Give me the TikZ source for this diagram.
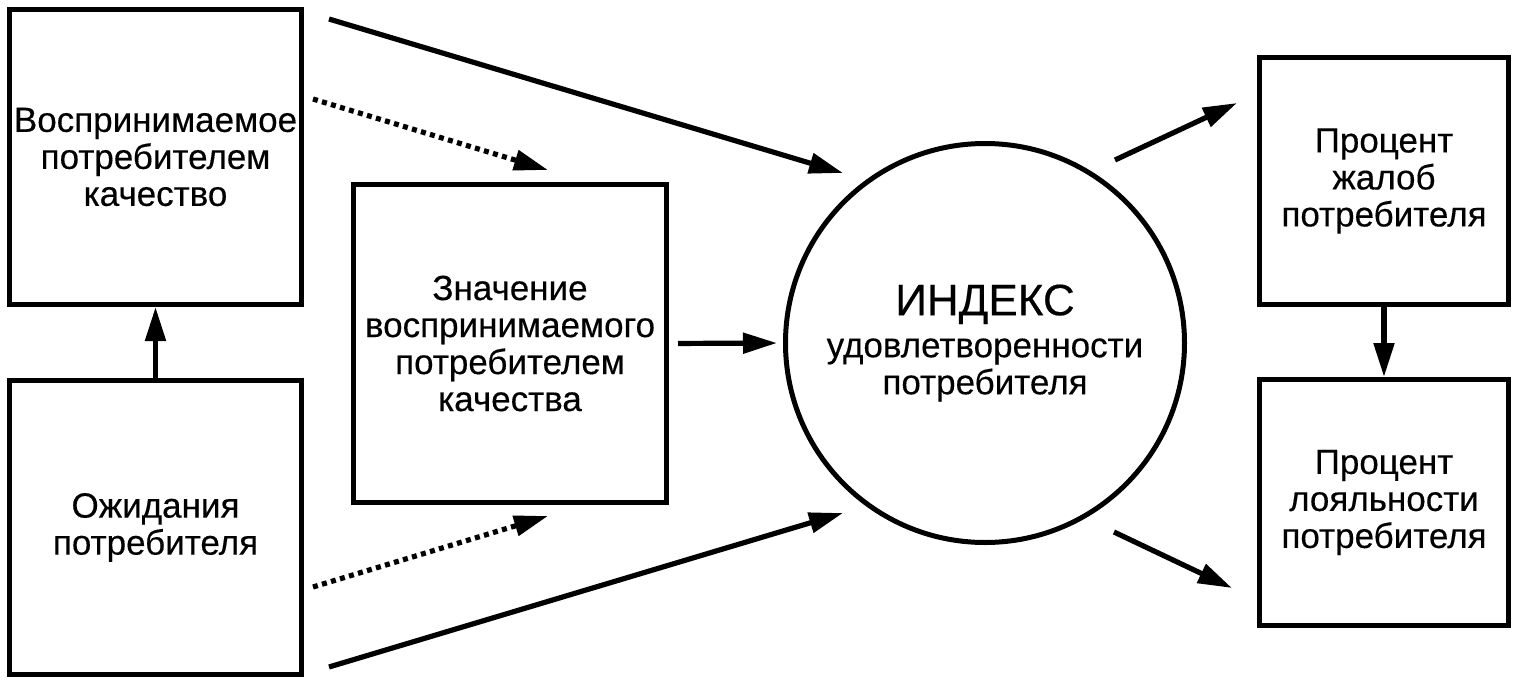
\documentclass[tikz,border=0pt]{standalone}
\usepackage{fontspec}
\setmainfont[FakeBold=0.35]{Liberation Sans}
\usetikzlibrary{arrows.meta,positioning,calc}

\begin{document}
\begin{tikzpicture}[
                x=0.5pt, y=-0.5pt,
                font=\fontsize{17.5}{18.5}\selectfont,
                >={Triangle[length=17pt,width=10pt]},
                block/.style={draw, line width=2.5pt, inner sep=0pt, outer sep=0pt, align=center},
                circ/.style={draw, circle, line width=2.5pt, minimum size=199.5pt, inner sep=0pt, outer sep=0pt, align=center},
                line/.style={->, line width=2.6pt},
                dotline/.style={line, dash pattern=on 2.5pt off 2.2pt},
            ]
            \useasboundingbox (0,0) rectangle (1517,686);

            % ----- Left column -----
            \node[block, minimum width=146pt, minimum height=147.5pt] (perc) at (155.5,157) {Воспринимаемое\\потребителем\\качество};
            \node[block, minimum width=146pt, minimum height=147pt, below=38pt of perc] (expect) {Ожидания\\потребителя};

            % ----- Middle part -----
            \node[block, minimum width=156.5pt, minimum height=159pt] (value) at (510,343.5) {Значение\\воспринимаемого\\потребителем\\качества};
            \node[circ] (index) at (985,343) {{\fontsize{22}{26}\selectfont ИНДЕКС}\\[2.5pt]удовлетворенности\\потребителя};

            % ----- Right column -----
            \node[block, minimum width=124.5pt, minimum height=123.5pt] (compl) at (1384,181) {Процент\\жалоб\\потребителя};
            \node[block, minimum width=124.5pt, minimum height=123pt, below=37.5pt of compl] (loyal) {Процент\\лояльности\\потребителя};

            % expectations -> perceived quality
            \draw[line, shorten >=1.25pt] (expect) -- (perc);

            % left column -> value (dotted)
            \draw[dotline] ($(perc.north east)+(11.5,89.5)$) -- ($(value.north)+(38,-14.5)$);
            \draw[dotline] ($(expect.south east)+(11.5,-87.5)$) -- ($(value.south)+(38,13.5)$);

            % left column -> index
            \draw[line] ($(perc.north east)+(27.5,9.5)$) -- ($(index.center)+(-142,-170)$);
            \draw[line] ($(expect.south east)+(27.5,-7.5)$) -- ($(index.center)+(-142,170)$);

            % value -> index
            \draw[line, shorten <=5.75pt, shorten >=4.25pt] (value.east) -- (index.west);

            % index -> right column
            \draw[line] ($(index.center)+(130,-183)$) -- ($(compl.west)+(-22.5,-78)$);
            \draw[line] ($(index.center)+(129,189)$) -- ($(loyal.west)+(-27.5,85.5)$);
            \draw[line, shorten >=1.25pt] (compl) -- (loyal);

            \end{tikzpicture}
\end{document}
